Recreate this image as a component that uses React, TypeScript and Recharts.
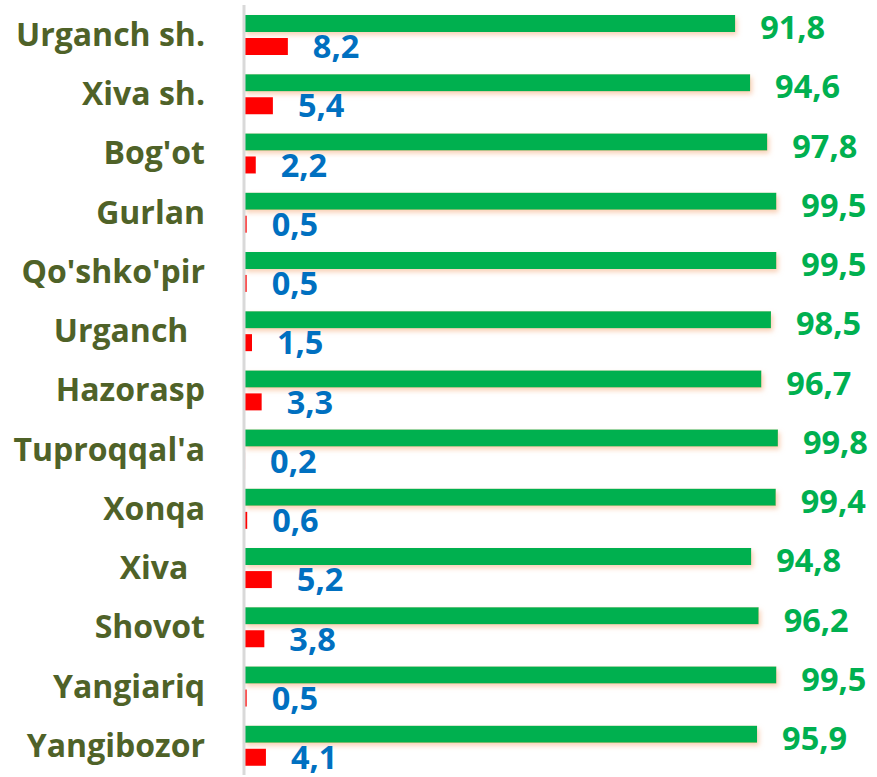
import React from "react";
import { BarChart, Bar, XAxis, YAxis, LabelList } from "recharts";

const districts = [
	"Urganch sh.",
	"Xiva sh.",
	"Bog'ot",
	"Gurlan",
	"Qo'shko'pir",
	"Urganch\u00a0\u00a0",
	"Hazorasp",
	"Tuproqqal'a",
	"Xonqa",
	"Xiva\u00a0\u00a0",
	"Shovot",
	"Yangiariq",
	"Yangibozor",
];
const greenValues = [91.8, 94.6, 97.8, 99.5, 99.5, 98.5, 96.7, 99.8, 99.4, 94.8, 96.2, 99.5, 95.9];
const redValues = [8.2, 5.4, 2.2, 0.5, 0.5, 1.5, 3.3, 0.2, 0.6, 5.2, 3.8, 0.5, 4.1];

const data = districts.map((name, i) => ({ name, green: greenValues[i], red: redValues[i] }));

const FONT = "'Open Sans', 'Noto Sans', sans-serif";
const fmt = (v: number) => v.toFixed(1).replace(".", ",");

function makeLabel(color: string, dy: number) {
	return (props: any) => {
		const { x, y, width, height, value } = props;
		return (
			<text
				x={x + width + 25}
				y={y + height / 2 + dy}
				fill={color}
				fontFamily={FONT}
				fontWeight={700}
				fontSize={32.5}
				textAnchor="start"
				dominantBaseline="middle"
			>
				{fmt(value)}
			</text>
		);
	};
}

export default function App() {
	return (
		<div style={{ position: "absolute", left: 0, top: 0, background: "#fff" }}>
			<BarChart
				width={877}
				height={777}
				data={data}
				layout="vertical"
				margin={{ top: 5, right: 98, bottom: 2, left: 0 }}
				barGap={6}
				barSize={17}
			>
				<defs>
					<filter id="glow" x="-5%" y="-50%" width="110%" height="250%">
						<feDropShadow dx="2" dy="3" stdDeviation="2.5" floodColor="#f4b183" floodOpacity="0.6" />
					</filter>
				</defs>
				<XAxis type="number" domain={[0, 100]} hide />
				<YAxis
					type="category"
					dataKey="name"
					width={244}
					axisLine={{ stroke: "#d9d9d9", strokeWidth: 3 }}
					tickLine={false}
					tickMargin={33}
					interval={0}
					tick={{ fill: "#4f6228", fontFamily: FONT, fontWeight: 700, fontSize: 32 }}
				/>
				<Bar dataKey="green" fill="#00b050" isAnimationActive={false} filter="url(#glow)">
					<LabelList dataKey="green" content={makeLabel("#00b050", 7)} />
				</Bar>
				<Bar dataKey="red" fill="#ff0000" isAnimationActive={false}>
					<LabelList dataKey="red" content={makeLabel("#0070c0", 3)} />
				</Bar>
			</BarChart>
		</div>
	);
}
